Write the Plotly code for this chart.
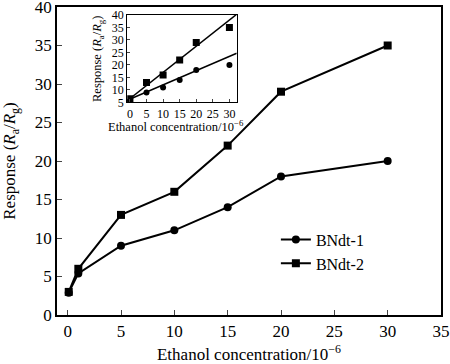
import plotly.graph_objects as go

# Main chart data
conc = [0.1, 1, 5, 10, 15, 20, 30]
bndt1 = [2.9, 5.4, 9, 11, 14, 18, 20]
bndt2 = [3.0, 6.0, 13, 16, 22, 29, 35]

# Inset data
inset_conc = [0, 5, 10, 15, 20, 30]
inset_b1 = [5.5, 9, 11, 14, 18, 20]
inset_b2 = [6.5, 13, 16, 22, 29, 35]
# Linear fit lines of the inset (end points)
fit_x = [-0.8, 32.2]
fit1_y = [5.9, 24.7]
fit2_y = [5.7, 40.3]

x_ticks = [0, 5, 10, 15, 20, 25, 30, 35]
y_ticks = [0, 5, 10, 15, 20, 25, 30, 35, 40]
inset_x_ticks = [0, 5, 10, 15, 20, 25, 30]
inset_y_ticks = [5, 10, 15, 20, 25, 30, 35, 40]

X_TITLE = "Ethanol concentration/10<sup>−6</sup>"
Y_TITLE = "Response (<i>R</i><sub>a</sub>/<i>R</i><sub>g</sub>)"

FONT = "Liberation Serif, Times New Roman, serif"

fig = go.Figure()
fig.add_trace(go.Scatter(x=conc, y=bndt1, mode="lines+markers", name="BNdt-1",
                         line=dict(color="black", width=2),
                         marker=dict(symbol="circle", size=8, color="black")))
fig.add_trace(go.Scatter(x=conc, y=bndt2, mode="lines+markers", name="BNdt-2",
                         line=dict(color="black", width=2),
                         marker=dict(symbol="square", size=8, color="black")))

# inset
fig.add_trace(go.Scatter(x=inset_conc, y=inset_b1, mode="markers", showlegend=False,
                         marker=dict(symbol="circle", size=6, color="black"),
                         xaxis="x2", yaxis="y2"))
fig.add_trace(go.Scatter(x=inset_conc, y=inset_b2, mode="markers", showlegend=False,
                         marker=dict(symbol="square", size=7, color="black"),
                         xaxis="x2", yaxis="y2"))
fig.add_trace(go.Scatter(x=fit_x, y=fit1_y, mode="lines", showlegend=False,
                         line=dict(color="black", width=1.5), xaxis="x2", yaxis="y2"))
fig.add_trace(go.Scatter(x=fit_x, y=fit2_y, mode="lines", showlegend=False,
                         line=dict(color="black", width=1.5), xaxis="x2", yaxis="y2"))

fig.update_layout(
    width=450, height=364,
    margin=dict(l=57, r=9, t=7, b=49),
    paper_bgcolor="white", plot_bgcolor="white",
    font=dict(family=FONT, color="black", size=16),
    showlegend=True,
    legend=dict(x=0.57, y=0.30, xanchor="left", yanchor="top",
                bgcolor="rgba(0,0,0,0)", font=dict(size=16, family=FONT),
                tracegroupgap=0, itemwidth=30),
    xaxis=dict(range=[-1, 35], tickvals=x_ticks, ticks="inside", ticklen=5,
               showline=True, linecolor="black", linewidth=1.5, mirror=True,
               showgrid=False, zeroline=False, tickfont=dict(size=17),
               automargin=False, ticklabeloverflow="allow",
               title=dict(text=X_TITLE, font=dict(size=17)),
               domain=[0, 1]),
    yaxis=dict(range=[0, 40], tickvals=y_ticks, ticks="inside", ticklen=5,
               showline=True, linecolor="black", linewidth=1.5, mirror=True,
               showgrid=False, zeroline=False, tickfont=dict(size=17),
               automargin=False, ticklabeloverflow="allow",
               title=dict(text=Y_TITLE, font=dict(size=17))),
    xaxis2=dict(domain=[0.183, 0.468], anchor="y2", range=[-0.8, 32.2],
                tickvals=inset_x_ticks, ticks="inside", ticklen=3,
                showline=True, linecolor="black", linewidth=1, mirror=True,
                showgrid=False, zeroline=False, tickfont=dict(size=12),
                automargin=False, ticklabeloverflow="allow"),
    yaxis2=dict(domain=[0.690, 0.974], anchor="x2", range=[5, 40],
                tickvals=inset_y_ticks, ticks="inside", ticklen=3,
                showline=True, linecolor="black", linewidth=1, mirror=True,
                showgrid=False, zeroline=False, tickfont=dict(size=12),
                automargin=False, ticklabeloverflow="allow"),
    annotations=[
        dict(text=X_TITLE, xref="paper", yref="paper", x=(176 - 57) / 384,
             y=(315 - 126) / 308, xanchor="center", yanchor="middle",
             showarrow=False, font=dict(size=12.5)),
        dict(text=Y_TITLE, xref="paper", yref="paper", x=(98 - 57) / 384,
             y=(315 - 59) / 308, xanchor="center", yanchor="middle",
             textangle=-90, showarrow=False, font=dict(size=12.5)),
    ],
)

fig.write_html("out.html", post_script="document.body.style.margin='0';",
               config={"displayModeBar": False})
